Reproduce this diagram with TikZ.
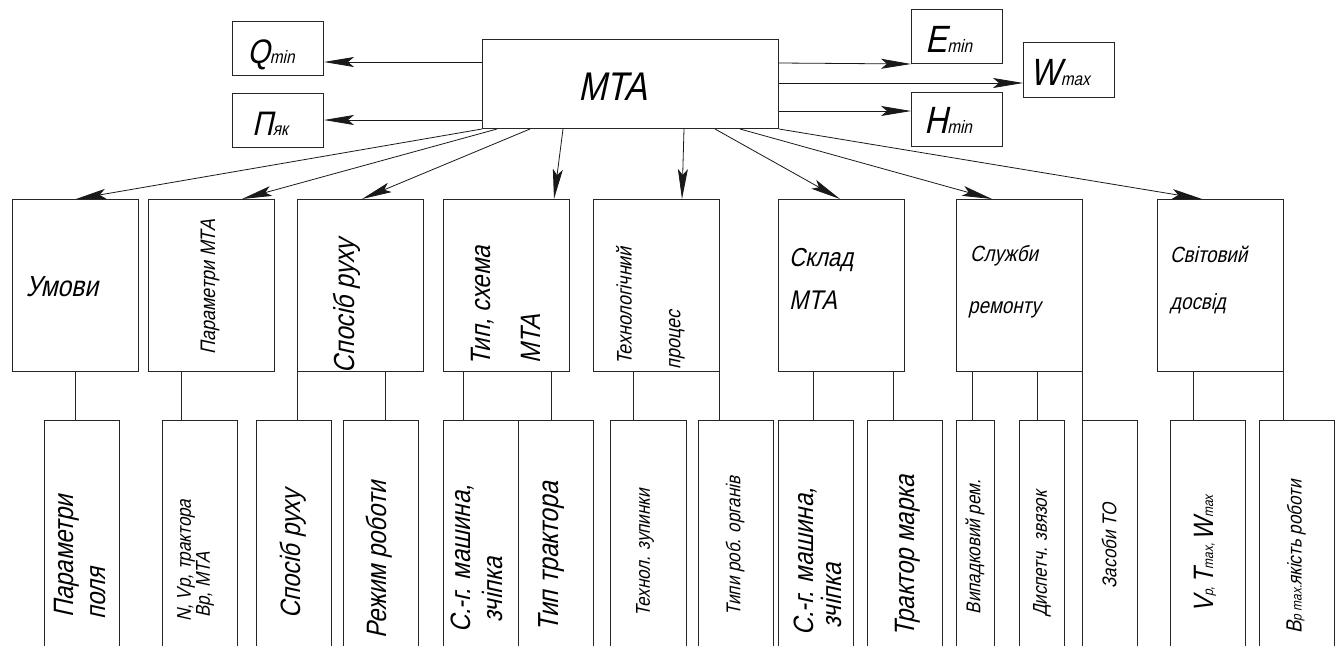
\documentclass[tikz,border=0pt]{standalone}
\usepackage{fontspec}
\newfontfamily\gost[FakeStretch=0.85,FakeSlant=0.22]{Liberation Sans}
\usetikzlibrary{arrows.meta,calc}
\newcommand\gfs[1]{\fontsize{#1}{#1}\selectfont}
\tikzset{
 box/.style={draw=black!85, line width=1pt, inner sep=0pt, anchor=north west},
 arr/.style={draw=black!90, line width=0.8pt, -{Stealth[length=30pt,width=10pt,inset=6pt]}},
 conn/.style={draw=black!85, line width=0.8pt},
 lbl/.style={inner sep=0pt, font=\gost},
 rlbl/.style={lbl, rotate=90},
}
\begin{document}
\begin{tikzpicture}[x=1pt,y=-1pt]
\clip (0,0) rectangle (1340,645);
\fill[white] (0,0) rectangle (1340,645);
% top boxes
\node[box, minimum width=296pt, minimum height=89pt] (mta) at (482,39) {};
\node[box, minimum width=91pt, minimum height=54pt] (q) at (232,21) {};
\node[box, minimum width=91pt, minimum height=54pt] (p) at (232,93) {};
\node[box, minimum width=91pt, minimum height=54pt] (e) at (911,9) {};
\node[box, minimum width=91pt, minimum height=55pt] (w) at (1023,42) {};
\node[box, minimum width=91pt, minimum height=54pt] (h) at (911,92) {};
\node[lbl, anchor=base] (tmta) at (613,100) {\gfs{40}MTA};
\node[lbl, anchor=base] (tq) at (271,63) {\gfs{34}Q\gfs{18}min};
\node[lbl, anchor=base] (tp) at (270,135) {\gfs{34}П\gfs{18}як};
\node[lbl, anchor=base] (te) at (949,52) {\gfs{38}E\gfs{18}min};
\node[lbl, anchor=base] (tw) at (1060,85) {\gfs{38}W\gfs{18}max};
\node[lbl, anchor=base] (th) at (948,133) {\gfs{38}H\gfs{18}min};
% top arrows
\draw[arr] ([yshift=-23pt]mta.north west) -- ([yshift=-41pt]q.north east);
\draw[arr] ([yshift=-81pt]mta.north west) -- ([yshift=-27pt]p.north east);
\draw[arr] ([yshift=-24pt]mta.north east) -- (e.south west);
\draw[arr] ([yshift=-44pt]mta.north east) -- ([yshift=-41pt]w.north west);
\draw[arr] ([yshift=-72pt]mta.north east) -- ([yshift=-19pt]h.north west);
% middle boxes
\foreach \n/\x in {m1/12,m2/148,m3/297,m4/443,m5/593,m6/778,m7/956,m8/1157}
  \node[box, minimum width=126pt, minimum height=172pt] (\n) at (\x,199) {};
\node[lbl] (tm1) at (62,287) {\gfs{29}Умови};
\node[rlbl] (tm2) at (210,287) {\gfs{21}Параметри МТА};
\node[rlbl] (tm3) at (347,306) {\gfs{29}Спосіб руху};
\node[rlbl] (tm4a) at (483,306) {\gfs{28}Тип, схема};
\node[rlbl] (tm4b) at (531,339) {\gfs{28}МТА};
\node[rlbl] (tm5a) at (624,306) {\gfs{21}Технологічний};
\node[rlbl] (tm5b) at (677,340) {\gfs{21}процес};
\node[lbl, anchor=west] (tm6a) at (789,260) {\gfs{26}Склад};
\node[lbl, anchor=west] (tm6b) at (789,300) {\gfs{27}МТА};
\node[lbl, anchor=west] (tm7a) at (970,256) {\gfs{22}Служби};
\node[lbl, anchor=west] (tm7b) at (968,310) {\gfs{22}ремонту};
\node[lbl, anchor=west] (tm8a) at (1170,254) {\gfs{22}Світовий};
\node[lbl, anchor=west] (tm8b) at (1170,304) {\gfs{22}досвід};
% arrows MTA -> middle boxes
\draw[arr] (mta.south west) -- ([xshift=64pt]m1.north west);
\draw[arr] ([xshift=15pt]mta.south west) -- ([xshift=94pt]m2.north west);
\draw[arr] ([xshift=48pt]mta.south west) -- ([xshift=65pt]m3.north west);
\draw[arr] ([xshift=81pt]mta.south west) -- ([xshift=111pt]m4.north west);
\draw[arr] ([xshift=202pt]mta.south west) -- ([xshift=89pt]m5.north west);
\draw[arr] ([xshift=233pt]mta.south west) -- ([xshift=62pt]m6.north west);
\draw[arr] ([xshift=258pt]mta.south west) -- ([xshift=36pt]m7.north west);
\draw[arr] (mta.south east) -- ([xshift=45pt]m8.north west);
% bottom boxes
\foreach \n/\x/\bw in {b1/44/75,b2/162/75,b3/256/75,b4/343/75,b5/443/75,b6/518/75,b7/610/76,b8/698/75,b9/778/75,b10/867/75,b11/956/38,b12/1019/45,b13/1082/55,b14/1170/75,b15/1259/75}
  \node[box, minimum width=\bw pt, minimum height=240pt] (\n) at (\x,420) {};
% connectors middle -> bottom
\foreach \b/\m/\dx in {b1/m1/31,b2/m2/19,b3/m3/41,b4/m3/42,b5/m4/20,b6/m4/33,b7/m5/23,b8/m5/21,b9/m6/35,b10/m6/26,b11/m7/16,b12/m7/18,b13/m7/0,b14/m8/23,b15/m8/24}{
  \coordinate (t\b) at ([xshift=\dx pt]\b.north west);
  \draw[conn] (t\b |- \m.south) -- (t\b);
}
% bottom texts
\node[rlbl, anchor=west] (tb1a) at (67,618) {\gfs{28}Параметри};
\node[rlbl, anchor=west] (tb1b) at (98,620) {\gfs{28}поля};
\node[rlbl, anchor=west] (tb2a) at (186,622) {\gfs{20}N, Vp, трактора};
\node[rlbl, anchor=west] (tb2b) at (205,618) {\gfs{20}Вр, МТА};
\node[rlbl] (tb3) at (293,554) {\gfs{28}Спосіб руху};
\node[rlbl] (tb4) at (379,560) {\gfs{28}Режим роботи};
\node[rlbl] (tb5a) at (463,559) {\gfs{28}С.-г. машина,};
\node[rlbl] (tb5b) at (492,590) {\gfs{28}зчіпка};
\node[rlbl] (tb6) at (552,557) {\gfs{29}Тип трактора};
\node[rlbl] (tb7) at (645,553) {\gfs{20}Технол. зупинки};
\node[rlbl] (tb8) at (735,546) {\gfs{20}Типи роб. органів};
\node[rlbl] (tb9a) at (806,562) {\gfs{28}С.-г. машина,};
\node[rlbl] (tb9b) at (831,596) {\gfs{28}зчіпка};
\node[rlbl] (tb10) at (908,556) {\gfs{28}Трактор марка};
\node[rlbl] (tb11) at (975,547) {\gfs{20}Випадковий рем.};
\node[rlbl] (tb12) at (1042,554) {\gfs{20}Диспетч. звязок};
\node[rlbl] (tb13) at (1109,546) {\gfs{20}Засоби ТО};
\node[rlbl] (tb14) at (1205,554) {\gfs{28}V\gfs{14}p, \gfs{28}T\gfs{14}max, \gfs{28}W\gfs{14}max};
\node[rlbl] (tb15) at (1296,557) {\gfs{22}В\gfs{14}р max.\gfs{20}якість роботи};
\end{tikzpicture}
\end{document}
